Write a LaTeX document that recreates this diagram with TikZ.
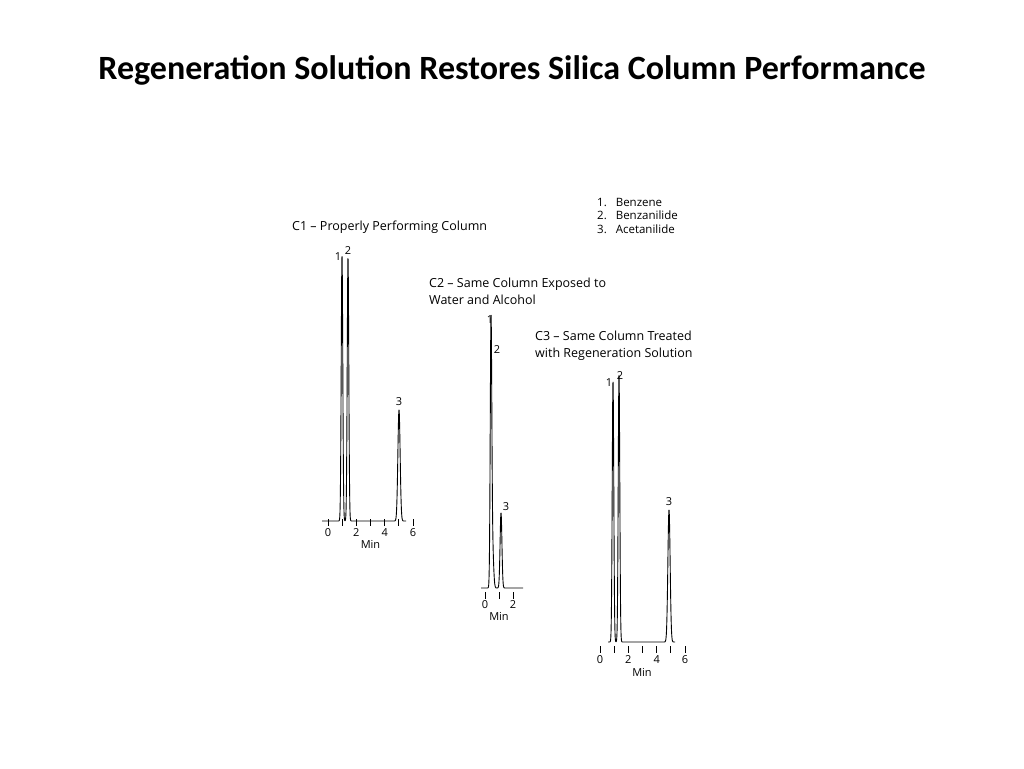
\documentclass[tikz,border=0pt]{standalone}
\usepackage{fontspec}
\setmainfont{Carlito}
\newfontfamily\labelfont{Open Sans}
\begin{document}
\begin{tikzpicture}[x=1pt,y=-1pt,
  lbl/.style={font=\labelfont\fontsize{12.5}{17}\selectfont,inner sep=0pt},
  leg/.style={font=\labelfont\fontsize{11.5}{13.5}\selectfont,inner sep=0pt},
  pk/.style={font=\labelfont\fontsize{11}{12}\selectfont,inner sep=0pt},
  trace/.style={line width=0.9pt,line join=round},
  tick/.style={line width=0.9pt}]
\useasboundingbox (0,0) rectangle (1024,768);

\node[font=\bfseries\fontsize{34}{40}\selectfont] (title) at (512,70) {Regeneration Solution Restores Silica Column Performance};

% legend
\node[leg,anchor=north west,align=left] (legend) at (597,198) {1.\hspace{9pt}Benzene\\2.\hspace{9pt}Benzanilide\\3.\hspace{9pt}Acetanilide};

% C1
\node[lbl,anchor=west] (c1) at (292,227) {C1 – Properly Performing Column};
\draw[trace] plot[domain=322:406,samples=600] (\x,{521-265*exp(-((\x-342)/1.1)^2)-263*exp(-((\x-348)/1.1)^2)-111*exp(-((\x-399)/1.6)^2)});
\foreach \i in {0,...,6} \draw[tick] (328+14.17*\i,519) -- (328+14.17*\i,526);
\foreach \i in {0,2,4,6} \node[pk] (c1n\i) at (328+14.17*\i,533) {\i};
\node[pk] (c1min) at (370.5,544) {Min};
\node[pk] (c1p1) at (338,257) {1};
\node[pk] (c1p2) at (348,251) {2};
\node[pk] (c1p3) at (399,402) {3};

% C2
\node[lbl,anchor=west,align=left] (c2) at (429,291) {C2 – Same Column Exposed to\\Water and Alcohol};
\draw[trace] plot[domain=481:523,samples=400] (\x,{588-258*exp(-((\x-491)/1.1)^2)-40*exp(-((\x-492.5)/1.5)^2)-75*exp(-((\x-501)/1.3)^2)});
\foreach \i in {0,1,2} \draw[tick] (485+14*\i,592) -- (485+14*\i,599);
\foreach \i in {0,2} \node[pk] (c2n\i) at (485+14*\i,605) {\i};
\node[pk] (c2min) at (499,616) {Min};
\node[pk] (c2p1) at (490,320) {1};
\node[pk] (c2p2) at (497,350) {2};
\node[pk] (c2p3) at (506,507) {3};

% C3
\node[lbl,anchor=west,align=left] (c3) at (535,346) {C3 – Same Column Treated\\with Regeneration Solution};
\draw[trace] plot[domain=608:675,samples=600] (\x,{642-260*exp(-((\x-613)/1.1)^2)-267*exp(-((\x-619)/1.1)^2)-132*exp(-((\x-669)/1.6)^2)});
\foreach \i in {0,...,6} \draw[tick] (600+14.17*\i,646) -- (600+14.17*\i,653);
\foreach \i in {0,2,4,6} \node[pk] (c3n\i) at (600+14.17*\i,660) {\i};
\node[pk] (c3min) at (642,672) {Min};
\node[pk] (c3p1) at (609,383) {1};
\node[pk] (c3p2) at (620,376) {2};
\node[pk] (c3p3) at (669,502) {3};
\end{tikzpicture}
\end{document}
